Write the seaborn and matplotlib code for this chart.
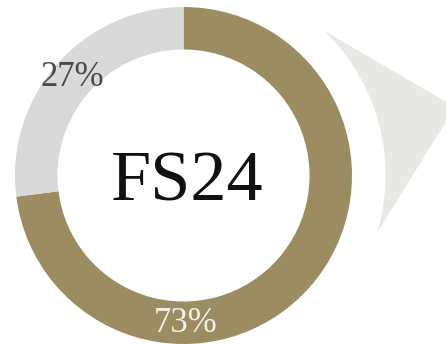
import numpy as np
import matplotlib
matplotlib.use("Agg")
import matplotlib.pyplot as plt
from matplotlib.patches import Polygon
import seaborn as sns

# Share of the season split
segments = ["FS24", "Rest"]
shares = [73, 27]
centre_label = "FS24"

sns.set_theme(style="white")
plt.rcParams["font.family"] = ["Liberation Serif", "DejaVu Serif"]

palette = ["#9b8c62", "#d9d9d9"]

W, H = 446, 344
fig = plt.figure(figsize=(W / 100, H / 100), dpi=100)
ax = fig.add_axes([0, 0, 1, 1])

cx, cy = 183.5, 168.5
r_out, ring = 168.5, 42.5

wedges, _ = ax.pie(
    shares,
    colors=palette,
    startangle=90,
    counterclock=False,
    center=(cx, cy),
    radius=r_out,
    wedgeprops=dict(width=ring, linewidth=0),
    frame=True,
)
ax.set_xlim(0, W)
ax.set_ylim(0, H)
ax.set_aspect("equal")
ax.axis("off")

# pointer shape to the right of the ring
r_arc = 202.0
theta = np.radians(np.linspace(45.6, -16.4, 80))
arc = np.column_stack([cx + r_arc * np.cos(theta), cy + r_arc * np.sin(theta)])
apex = np.array([[455.0, 237.0]])
pointer = Polygon(np.vstack([arc, apex]), closed=True, facecolor="#e8e8e4",
                  edgecolor="none", zorder=0)
ax.add_patch(pointer)

# centre title
ax.text(cx + 4, cy - 25, centre_label, ha="center", va="baseline",
        fontsize=52, color="#111111")

# percentage labels on the ring
r_mid = r_out - ring / 2
w_rest = wedges[1]
mid_rest = np.radians((w_rest.theta1 + w_rest.theta2) / 2)
ax.text(cx + r_mid * np.cos(mid_rest) - 1, cy + r_mid * np.sin(mid_rest) - 8,
        f"{shares[1]}%", ha="center", va="baseline", fontsize=25, color="#4a4a4a")

mid_main = np.radians(-89)
ax.text(cx + r_mid * np.cos(mid_main), cy + r_mid * np.sin(mid_main) - 9,
        f"{shares[0]}%", ha="center", va="baseline", fontsize=25, color="#f2f0ea")

fig.savefig("out.png", dpi=100)
